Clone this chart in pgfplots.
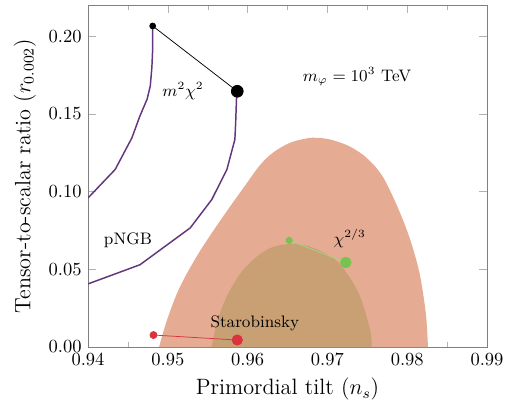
\documentclass[border=0pt]{standalone}
\usepackage{pgfplots}
\pgfplotsset{compat=1.18}
\definecolor{outerc}{RGB}{230,171,147}
\definecolor{innerc}{RGB}{200,160,115}
\definecolor{purp}{RGB}{100,55,125}
\definecolor{redc}{RGB}{218,50,62}
\definecolor{greenc}{RGB}{120,195,80}
\begin{document}
\begin{tikzpicture}
\begin{axis}[
  scale only axis, width=215.7pt, height=184.9pt,
  xmin=0.94, xmax=0.99, ymin=0, ymax=0.22,
  xtick={0.94,0.95,0.96,0.97,0.98,0.99},
  minor xtick={0.945,0.955,0.965,0.975,0.985},
  ytick={0,0.05,0.1,0.15,0.2},
  xticklabel style={/pgf/number format/.cd,fixed,fixed zerofill,precision=2},
  yticklabel style={/pgf/number format/.cd,fixed,fixed zerofill,precision=2},
  scaled ticks=false,
  xlabel={\large Primordial tilt ($n_s$)},
  ylabel={\large Tensor-to-scalar ratio ($r_{0.002}$)},
  axis line style={gray},
  tick style={gray!60},
]
% outer contour
\addplot[fill=outerc, draw=none, smooth, tension=0.55] coordinates {
(0.9489,0) (0.9499,0.0174) (0.9515,0.0385) (0.9540,0.0615) (0.9570,0.0845)
(0.9597,0.1040) (0.96155,0.1170) (0.96322,0.1252) (0.96531,0.1314) (0.96741,0.1342)
(0.96866,0.1346) (0.97033,0.1335) (0.97242,0.1299) (0.97409,0.1250) (0.97500,0.1212)
(0.97600,0.1160) (0.97700,0.1090) (0.97800,0.0990) (0.9791,0.0863) (0.9800,0.0745)
(0.9808,0.0620) (0.9815,0.0485) (0.9820,0.0340) (0.9824,0.0180) (0.9826,0)} \closedcycle;
% inner contour
\addplot[fill=innerc, draw=none, smooth, tension=0.55] coordinates {
(0.95547,0) (0.95613,0.0153) (0.95738,0.0325) (0.95946,0.0497) (0.96239,0.0626)
(0.96531,0.0663) (0.96782,0.0645) (0.97074,0.0572) (0.97242,0.0475) (0.97409,0.0325)
(0.97534,0.0110) (0.97555,0)} \closedcycle;
% pNGB curves
\addplot[purp, thick] coordinates {
(0.9481,0.2065) (0.9481,0.1916) (0.9480,0.1800) (0.9478,0.1679) (0.9474,0.1594)
(0.9465,0.1486) (0.9455,0.1346) (0.9434,0.1142) (0.9400,0.0959)};
\addplot[purp, thick] coordinates {
(0.9587,0.1645) (0.9586,0.1594) (0.9585,0.1443) (0.9584,0.1335) (0.9574,0.1142)
(0.9555,0.0948) (0.9528,0.0766) (0.9465,0.0529) (0.9400,0.0406)};
% m^2 chi^2
\addplot[black, thin] coordinates {(0.9481,0.2065) (0.9587,0.1645)};
\addplot[only marks, mark=*, mark size=1.6pt, black] coordinates {(0.9481,0.2065)};
\addplot[only marks, mark=*, mark size=3.2pt, black] coordinates {(0.9587,0.1645)};
% Starobinsky
\addplot[redc, thin] coordinates {(0.9482,0.0077) (0.9587,0.0045)};
\addplot[only marks, mark=*, mark size=1.9pt, redc] coordinates {(0.9482,0.0077)};
\addplot[only marks, mark=*, mark size=2.8pt, redc] coordinates {(0.9587,0.0045)};
% chi^{2/3}
\addplot[greenc!70, thin] coordinates {(0.9652,0.0686) (0.9723,0.0544)};
\addplot[only marks, mark=*, mark size=1.7pt, greenc] coordinates {(0.9652,0.0686)};
\addplot[only marks, mark=*, mark size=2.9pt, greenc] coordinates {(0.9723,0.0544)};
% labels
\node at (axis cs:0.9519,0.1645) {\small $m^2\chi^2$};
\node at (axis cs:0.9450,0.069) {\small pNGB};
\node at (axis cs:0.9609,0.0155) {\small Starobinsky};
\node at (axis cs:0.9728,0.0700) {\small $\chi^{2/3}$};
\node at (axis cs:0.9737,0.174) {\small $m_\varphi = 10^3$ TeV};
\end{axis}
\pgfresetboundingbox
\path[use as bounding box] ([shift={(-47.6pt,-30.3pt)}]current axis.south west) rectangle ([shift={(13.5pt,2.7pt)}]current axis.north east);
\end{tikzpicture}
\end{document}
